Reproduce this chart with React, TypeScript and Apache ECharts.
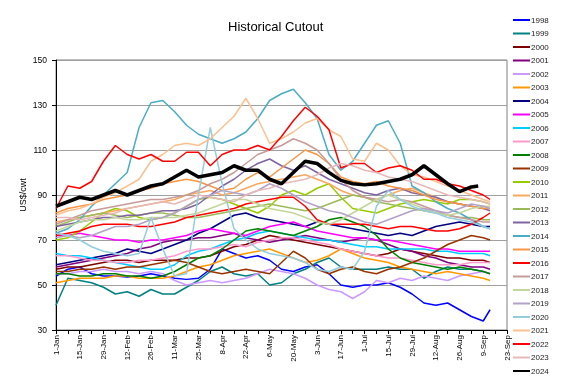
import React, { useEffect, useRef } from "react";
import * as echarts from "echarts";

const tickLabels = ["1-Jan","15-Jan","29-Jan","12-Feb","26-Feb","11-Mar","25-Mar","8-Apr","22-Apr","6-May","20-May","3-Jun","17-Jun","1-Jul","15-Jul","29-Jul","12-Aug","26-Aug","9-Sep","23-Sep"];
const days = [0,7,14,21,28,35,42,49,56,63,70,77,84,91,98,105,112,119,126,133,140,147,154,161,168,175,182,189,196,203,210,217,224,231,238,245,252,256];
const days2024 = [0,7,14,21,28,35,42,49,56,63,70,77,84,91,98,105,112,119,126,133,140,147,154,161,168,175,182,189,196,203,210,217,224,231,238,245,249];

const years = ["1998","1999","2000","2001","2002","2003","2004","2005","2006","2007","2008","2009","2010","2011","2012","2013","2014","2015","2016","2017","2018","2019","2020","2021","2022","2023","2024"];
const colors = ["#0000FF","#008080","#800000","#800080","#CC99FF","#FF9900","#000080","#FF00FF","#00CCFF","#FF99CC","#008000","#993300","#99CC00","#F9A860","#9BBB59","#8064A2","#4BACC6","#F79646","#FF0000","#C79B9A","#C3D69B","#B3A2C7","#93CDDD","#FAC090","#FF0000","#E6B9B8","#000000"];

const y1998 = [54,57,58,55,54,54,53.5,54,55,54,53,52.5,53,57,66,64,62,63,61,57,56,58,59,55,50,49,50,50,51,49,46,42,41,42,39,36,34,39];
const y1999 = [41,53,52,51,49,46,47,45,48,46,46,49,52,56,58,55,54,55,50,51,55,57,60,62,58,57,57,57,58,57,57,53,56,58,57,57,56,55];
const y2000 = [57,58,58,59,60,61,61,60,61,61,61,62,62,63,65,67,68,70,72,71,70,69,68,67,66,65,64,63,64,66,65,64,63,62,62,61,61,60];
const y2001 = [58,59,60,61,62,63,64,66,67,69,70,70,71,71,72,73,71,70,69,70,71,72,71,70,69,70,71,70,68,66,65,63,62,60,59,58,58,57];
const y2002 = [55,55,56,56,57,56,56,55,56,55,52,50,51,52,51,52,53,55,57,56,55,53,50,48,47,44,47,52,51,53,52,54,53,52,54,55,56,55];
const y2003 = [51,52,53,53,53,54,54,53,53,53,54,56,58,59,61,63,64,65,66,64,62,60,61,63,66,64,62,61,60,58,57,56,55,56,55,54,53,52];
const y2004 = [59,60,61,62,63,64,66,65,64,66,68,70,73,75,78,81,82,80,79,78,77,76,78,77,76,75,74,73,72,73,72,74,76,77,78,77,76,76];
const y2005 = [72,72,73,72,71,70,70,69,70,70,71,72,74,75,74,73,72,74,76,77,78,76,74,73,72,71,71,70,70,69,68,67,66,66,65,65,65,65];
const y2006 = [64,63,63,62,61,60,59,58,57,57,59,63,65,66,68,70,71,73,74,73,72,71,70,70,69,68,67,67,66,66,66,66,65,65,64,64,64,63];
const y2007 = [63,63,62,61,61,60,60,61,61,62,63,65,66,66,67,68,67,69,70,71,71,70,69,68,66,65,64,63,62,62,61,60,59,59,59,60,60,60];
const y2008 = [55,55,54,54,55,55,54,54,53,54,56,59,62,63,66,70,74,75,74,73,72,74,76,79,80,78,76,72,66,62,60,59,58,57,58,57,56,55];
const y2009 = [56,56,57,57,58,57,58,58,59,60,61,60,58,56,55,56,57,56,55,60,65,62,57,55,57,58,56,55,57,58,60,62,65,68,70,72,71,70];
const y2010 = [70,71,74,78,82,84,83,80,79,80,82,85,88,89,88,86,84,82,85,90,92,90,93,95,89,84,83,82,84,86,87,88,87,86,88,88,87,86];
const y2011 = [78,79,80,81,82,83,84,85,86,87,88,90,91,92,90,91,93,95,96,97,98,99,97,95,92,90,89,88,90,92,93,91,89,87,86,85,84,84];
const y2012 = [76,78,80,81,82,81,80,81,82,82,81,80,80,81,82,83,84,85,86,85,84,83,84,86,88,90,89,87,86,85,84,83,82,81,80,80,79,79];
const y2013 = [76,77,78,79,80,80,81,81,82,83,83,84,86,90,94,97,101,104,106,103,101,103,100,97,95,93,91,90,92,93,91,90,89,87,86,85,84,83];
const y2014 = [73,75,79,85,90,95,100,120,131,132,127,121,117,115,113,115,118,124,132,135,137,131,124,108,101,105,113,121,123,113,94,91,87,84,82,79,76,75];
const y2015 = [82,84,85,86,88,89,90,92,93,95,96,97,96,94,92,93,97,100,98,102,106,110,108,104,98,96,95,96,94,93,92,90,88,87,86,85,84,84];
const y2016 = [72,73,74,76,77,77,77,76,76,77,78,80,81,82,83,84,86,87,88,89,89,85,79,77,77,77,77,76,75,76,76,75,74,74,75,77,80,82];
const y2017 = [77,79,81,83,84,85,86,87,88,88,89,90,92,95,97,100,104,108,110,112,115,113,110,104,97,92,89,88,87,88,87,85,83,81,80,79,78,78];
const y2018 = [74,76,78,79,79,80,79,79,80,80,80,81,82,84,86,88,88,86,84,83,82,80,78,77,79,82,85,88,90,88,86,84,82,81,82,84,85,85];
const y2019 = [71,72,71,72,74,76,76,77,79,80,82,85,88,90,92,91,90,92,95,93,90,87,85,83,82,80,78,77,79,81,83,84,83,82,84,86,85,84];
const y2020 = [73,72,70,67,65,64,63,64,80,66,54,55,90,120,95,75,70,66,64,63,62,60,57,56,58,57,65,85,92,88,85,83,82,80,79,78,76,75];
const y2021 = [81,83,84,86,89,91,94,97,105,108,112,113,112,115,120,125,133,124,113,115,118,122,124,119,116,106,105,113,110,103,99,98,96,94,92,90,88,87];
const y2022 = [84,94,93,96,105,112,108,106,108,105,105,109,109,103,108,110,110,112,110,116,123,129,125,119,102,104,104,100,102,103,101,97,97,95,94,92,90,88];
const y2023 = [80,80,79,80,81,82,84,85,86,87,86,88,90,89,88,87,90,92,93,95,96,97,99,102,104,103,101,100,98,97,96,94,92,90,89,88,87,86];
const y2024 = [85,87,89,88,90,92,90,92,94,95,98,101,98,99,100,103,101,101,97,95,100,105,104,100,96.5,95,94.5,95,96,97,99,103,99,95,91.5,93.6,94];

const values = [y1998,y1999,y2000,y2001,y2002,y2003,y2004,y2005,y2006,y2007,y2008,y2009,y2010,y2011,y2012,y2013,y2014,y2015,y2016,y2017,y2018,y2019,y2020,y2021,y2022,y2023,y2024];

const FONT = "'Liberation Sans', Arial, sans-serif";

export default function App() {
  const ref = useRef<HTMLDivElement>(null);
  useEffect(() => {
    const chart = echarts.init(ref.current!, undefined, { renderer: "svg" });
    const series = years.map((yr, i) => {
      const xs = yr === "2024" ? days2024 : days;
      return {
        name: yr,
        type: "line",
        data: xs.map((d, j) => [d, values[i][j]]),
        showSymbol: false,
        symbol: "none",
        silent: true,
        lineStyle: { color: colors[i], width: yr === "2024" ? 3.5 : 1.5 },
        itemStyle: { color: colors[i] },
      };
    });
    chart.setOption({
      animation: false,
      textStyle: { fontFamily: FONT },
      title: {
        text: "Historical Cutout",
        left: 223,
        top: 15,
        textStyle: { fontSize: 13, fontWeight: "normal", color: "#000", fontFamily: FONT },
      },
      legend: {
        orient: "vertical",
        left: 508,
        top: 10,
        itemWidth: 17,
        itemHeight: 2,
        itemGap: 3.5,
        textStyle: { fontSize: 8, color: "#222", lineHeight: 10, fontFamily: FONT, padding: [0, 0, 0, -4] },
        data: years.map((y) => ({ name: y, icon: "rect" })),
      },
      grid: {
        left: 56,
        right: 57,
        top: 60,
        bottom: 60,
        show: true,
        borderColor: "#808080",
        borderWidth: 1,
      },
      xAxis: {
        type: "value",
        min: 0,
        max: 266,
        interval: 14,
        axisLine: { lineStyle: { color: "#000" } },
        axisTick: { show: true, length: 4, lineStyle: { color: "#000" } },
        minorTick: { show: true, splitNumber: 2, length: 4, lineStyle: { color: "#000" } },
        splitLine: { show: false },
        axisLabel: {
          rotate: 90,
          fontSize: 8,
          color: "#000",
          margin: 5,
          fontFamily: FONT,
          formatter: (v: number) => tickLabels[Math.round(v / 14)] ?? "",
        },
      },
      yAxis: {
        type: "value",
        min: 30,
        max: 150,
        interval: 20,
        name: "US$/cwt",
        nameLocation: "middle",
        nameGap: 29,
        nameMoveOverlap: false,
        nameTextStyle: { fontSize: 9, color: "#000", fontFamily: FONT },
        axisLine: { show: true, lineStyle: { color: "#000" } },
        axisTick: { show: true, length: 4, lineStyle: { color: "#000" } },
        splitLine: { show: true, lineStyle: { color: "#a0a0a0", width: 1 } },
        axisLabel: { fontSize: 8.5, color: "#000", margin: 9, fontFamily: FONT },
      },
      series,
    });
    return () => chart.dispose();
  }, []);
  return <div ref={ref} style={{ position: "fixed", left: 0, top: 0, width: 564, height: 390 }} />;
}
